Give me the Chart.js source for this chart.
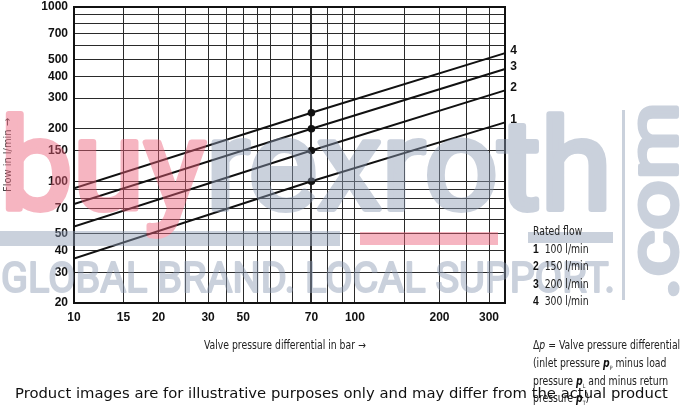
<!DOCTYPE html>
<html><head><meta charset="utf-8">
<script src="https://cdn.jsdelivr.net/npm/chart.js@4.4.1/dist/chart.umd.min.js"></script>
<style>
html,body{margin:0;padding:0;background:#fff;}
#wrap{position:relative;width:682px;height:410px;overflow:hidden;background:#fff;}
canvas{position:absolute;left:0;top:0;}
.t{position:absolute;font-family:'Liberation Sans Narrow','DejaVu Sans Condensed',sans-serif;font-size:12px;color:#222;white-space:nowrap;line-height:14px;transform:scaleX(0.86);transform-origin:0 0;}
.t b{color:#111;}
.foot{position:absolute;left:15px;top:384px;font-family:'DejaVu Sans',sans-serif;font-size:14.8px;color:#111;white-space:nowrap;}
</style></head><body>
<div id="wrap">
<canvas id="c" width="682" height="410"></canvas>
<div class="t" id="xtitle" style="left:204px;top:338px;">Valve pressure differential in bar →</div>
<div class="t" style="left:533px;top:224px;">Rated flow</div>
<div id="legend"></div>
<div class="t" style="left:533px;top:338px;">Δ<i>p</i> = Valve pressure differential</div>
<div class="t" style="left:533px;top:356px;">(inlet pressure <b><i>p</i></b><sub style="font-size:6px">P</sub> minus load</div>
<div class="t" style="left:533px;top:374px;">pressure <b><i>p</i></b><sub style="font-size:6px">L</sub> and minus return</div>
<div class="t" style="left:533px;top:391px;">pressure <b><i>p</i></b><sub style="font-size:6px">T</sub>)</div>
<div class="foot">Product images are for illustrative purposes only and may differ from the actual product</div>
</div>
<script>
// ---- data ----
const xGridValues = [10,15,20,25,30,35,40,45,50,60,70,80,90,100,150,200,250,300];
const xLabelValues = [10,15,20,30,40,70,100,200,300];
const xLabelTexts  = ['10','15','20','30','50','70','100','200','300'];
const yGridValues = [20,30,40,50,60,70,80,90,100,150,200,300,400,500,600,700,800,900,1000];
const yLabelValues = [20,30,40,50,70,100,150,200,300,400,500,700,1000];
const seriesNames = ['1','2','3','4'];
const ratedFlows = [100,150,200,300];
const pressureDiff = [10,70,340];
const flow1 = [36,100,217];
const flow2 = [55,150,331];
const flow3 = [74,200,439];
const flow4 = [91,247,542];
const flows = [flow1,flow2,flow3,flow4];

const lg = document.getElementById('legend');
seriesNames.forEach((n,i)=>{
  const d=document.createElement('div');
  d.className='t';
  d.style.left='533px';
  d.style.top=(242+i*17.4)+'px';
  d.innerHTML='<b style="font-family:\'Liberation Sans\',sans-serif">'+n+'</b>&nbsp;&nbsp;'+ratedFlows[i]+' l/min';
  lg.appendChild(d);
});

const FONT_NUM = "'Liberation Sans', Arial, sans-serif";
const FONT_NARROW = "'Liberation Sans Narrow','DejaVu Sans Condensed',sans-serif";

const datasets = flows.map((f,i)=>({
  label: seriesNames[i],
  data: pressureDiff.map((p,j)=>({x:p,y:f[j]})),
  showLine: true,
  borderColor: '#111',
  backgroundColor: '#111',
  borderWidth: 2,
  pointRadius: pressureDiff.map(p=>p===70?3.8:0),
  pointHoverRadius: 0,
  pointBackgroundColor: '#111',
  pointBorderWidth: 0,
  tension: 0
}));

const framePlugin = {
  id:'frame',
  afterDatasetsDraw(chart){
    const {ctx, chartArea:a} = chart;
    ctx.save();
    ctx.strokeStyle='#111'; ctx.lineWidth=2;
    ctx.strokeRect(a.left, a.top, a.right-a.left, a.bottom-a.top);
    ctx.fillStyle='#111';
    ctx.font='bold 12px '+FONT_NUM;
    ctx.textBaseline='middle'; ctx.textAlign='left';
    chart.data.datasets.forEach((ds,i)=>{
      const last = ds.data[ds.data.length-1];
      const px = chart.scales.x.getPixelForValue(last.x);
      const py = chart.scales.y.getPixelForValue(last.y);
      ctx.fillText(ds.label, px+6, py-3);
    });
    ctx.restore();
  }
};

// watermark painted opaque on an offscreen canvas, then laid over with transparency
function paintText(c, txt, font, x, y, width, stroke, color){
  c.font = font;
  const w = c.measureText(txt).width;
  c.save();
  c.translate(x,y);
  c.scale(width/w,1);
  c.fillStyle=color; c.strokeStyle=color; c.lineWidth=stroke; c.lineJoin='round';
  c.fillText(txt,0,0);
  if(stroke>0) c.strokeText(txt,0,0);
  c.restore();
}
function buildWatermark(){
  const off=document.createElement('canvas'); off.width=682; off.height=410;
  const c=off.getContext('2d');
  const pink='rgb(235,95,120)', gray='rgb(140,155,180)';
  c.fillStyle=gray; c.fillRect(0,231,340,15);
  c.fillStyle=pink; c.fillRect(360,232,138,13);
  c.fillStyle=gray; c.fillRect(528,232,85,11); c.fillRect(622,110,3,190);
  c.textBaseline='alphabetic'; c.textAlign='left';
  const WM="Roboto, 'Open Sans', sans-serif";
  c.font="400 127px "+WM;
  const wAll=c.measureText('buyrexroth').width, wBuy=c.measureText('buy').width;
  const sx=612/wAll;
  c.save(); c.translate(0,209); c.scale(sx,1);
  c.lineWidth=6; c.lineJoin='round';
  c.fillStyle=pink; c.strokeStyle=pink; c.fillText('buy',0,0); c.strokeText('buy',0,0);
  c.fillStyle=gray; c.strokeStyle=gray; c.fillText('rexroth',wBuy,0); c.strokeText('rexroth',wBuy,0);
  c.restore();
  paintText(c,'GLOBAL BRAND. LOCAL SUPPORT.',"400 42px "+WM,1,292,614,2,gray);
  c.save(); c.translate(677,300); c.rotate(-Math.PI/2);
  paintText(c,'.com',"400 70px "+WM,0,0,198,4,gray);
  c.restore();
  return off;
}
const wmCanvas = buildWatermark();
const watermarkPlugin = {
  id:'wm',
  afterDraw(chart){
    const ctx=chart.ctx;
    ctx.save(); ctx.globalAlpha=0.46; ctx.drawImage(wmCanvas,0,0); ctx.restore();
  }
};

new Chart(document.getElementById('c'), {
  type:'scatter',
  data:{datasets},
  options:{
    responsive:false, animation:false,
    layout:{padding:{left:0,top:7,right:177,bottom:0}},
    plugins:{legend:{display:false}, tooltip:{enabled:false}},
    scales:{
      x:{
        type:'logarithmic', min:10, max:342,
        afterBuildTicks(s){ s.ticks = xGridValues.map(v=>({value:v})); },
        afterFit(s){ s.height=107; s.paddingLeft=0; s.paddingRight=0; s.paddingTop=0; s.paddingBottom=0; },
        ticks:{
          autoSkip:false, maxRotation:0, minRotation:0, padding:7,
          color:'#111', font:{family:FONT_NUM, size:12, weight:'bold'},
          callback:(v)=>{ const i=xLabelValues.indexOf(v); return i>=0?xLabelTexts[i]:''; }
        },
        grid:{color:'#2a2a2a', lineWidth:(c)=> (c.tick && c.tick.value===70)?2:1, drawTicks:false},
        border:{display:true, color:'#111', width:2}
      },
      y:{
        type:'logarithmic', min:20, max:1000,
        afterBuildTicks(s){ s.ticks = yGridValues.map(v=>({value:v})); },
        afterFit(s){ s.width=74; s.paddingLeft=0; s.paddingRight=0; s.paddingTop=0; s.paddingBottom=0; },
        ticks:{
          autoSkip:false, padding:6,
          color:'#111', font:{family:FONT_NUM, size:12, weight:'bold'},
          callback:(v)=> yLabelValues.indexOf(v)>=0 ? String(v) : ''
        },
        title:{display:true, text:'Flow in l/min →', color:'#444', font:{family:FONT_NARROW, size:11}, padding:{top:2,bottom:0}},
        grid:{color:'#2a2a2a', lineWidth:1, drawTicks:false},
        border:{display:true, color:'#111', width:2}
      }
    }
  },
  plugins:[framePlugin, watermarkPlugin]
});
</script>
</body></html>
